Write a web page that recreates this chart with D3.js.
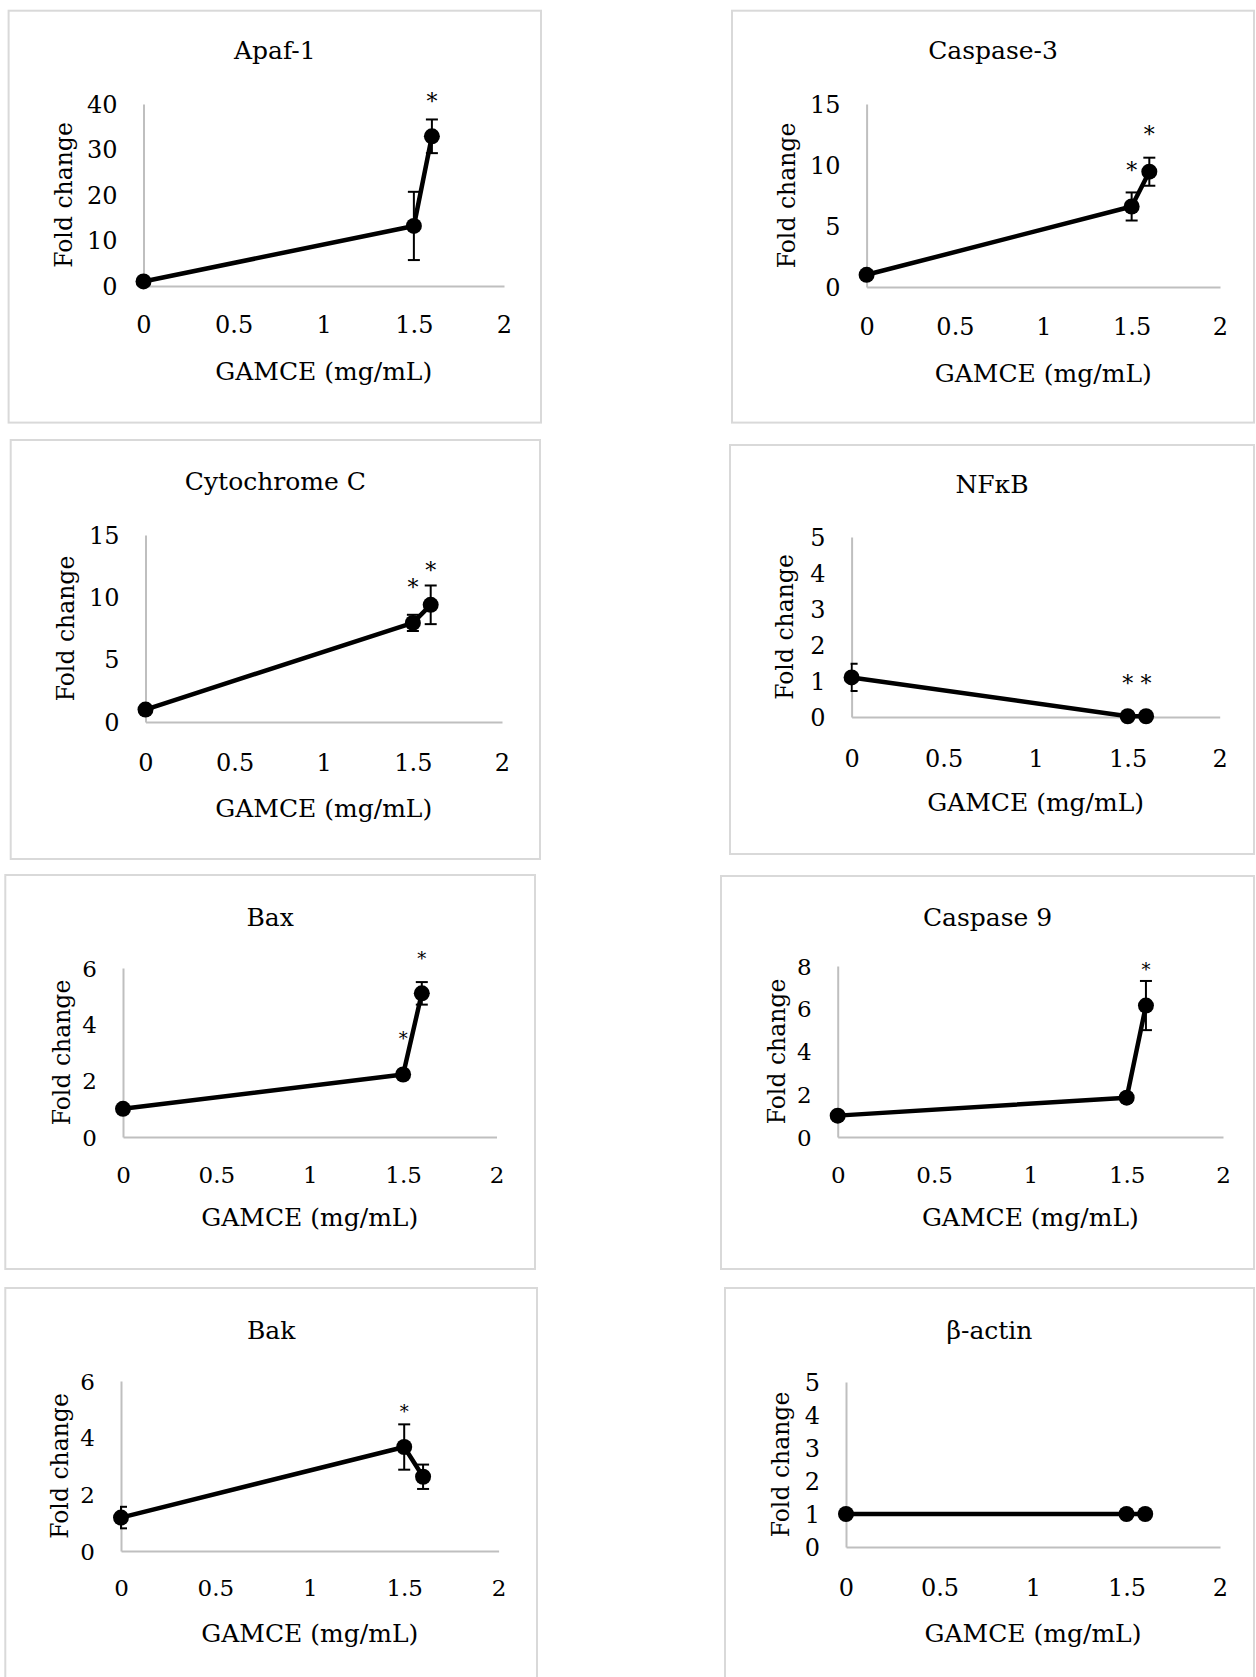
<!DOCTYPE html>
<meta charset="utf-8">
<style>
    body { margin: 0; background: #fff; }
    text { font-family: "DejaVu Serif", serif; fill: #000; }
</style>
<body>
<script src="https://d3js.org/d3.v7.min.js"></script>
<script>

// genes shown in each panel, row by row (left, right)
var genes = ["Apaf-1", "Caspase-3", "Cytochrome C", "NF\u03BAB", "Bax", "Caspase 9", "Bak", "\u03B2-actin"];

// GAMCE doses (mg/mL) and x axis ticks
var doses = [0, 1.5, 1.6];
var xTicks = [0, 0.5, 1, 1.5, 2];

// mean fold change per gene at each dose
var foldChange = [
    [1.0, 13.2, 32.9],
    [1.0, 6.6, 9.45],
    [1.0, 7.95, 9.4],
    [1.1, 0.02, 0.02],
    [1.0, 2.22, 5.1],
    [1.0, 1.84, 6.15],
    [1.18, 3.67, 2.62],
    [1.0, 1.0, 1.0]
];

// error bar half-length
var errorBars = [
    [0, 7.5, 3.7],
    [0, 1.15, 1.15],
    [0, 0.65, 1.55],
    [0.38, 0, 0],
    [0, 0.08, 0.4],
    [0, 0.2, 1.15],
    [0.38, 0.8, 0.43],
    [0, 0, 0]
];

// y axis maximum and tick step
var yMax = [40, 15, 15, 5, 6, 8, 6, 5];
var yStep = [10, 5, 5, 1, 2, 2, 2, 1];

// level of the significance asterisk (null = none)
var starLevel = [
    [null, null, 41.7],
    [null, 10.0, 12.9],
    [null, 11.2, 12.6],
    [null, 1.09, 1.09],
    [null, 3.64, 6.47],
    [null, null, 8.03],
    [null, 5.06, null],
    [null, null, null]
];

// panel placement on the page
var layout = [
    {box: [8.6, 10.7, 541, 422.6], x0: 143.5, x1: 504, y0: 286, y1: 104, titleY: 50, tickY: 325, labelY: 371, ylabX: 64, fs: 24, star: 22},
    {box: [732, 10.7, 1254, 422.6], x0: 866.6, x1: 1220, y0: 287, y1: 104, titleY: 50, tickY: 327, labelY: 373, ylabX: 787, fs: 24, star: 22},
    {box: [10.7, 440, 540, 859], x0: 145.5, x1: 502, y0: 722, y1: 535, titleY: 481.5, tickY: 763, labelY: 808, ylabX: 66, fs: 24, star: 22},
    {box: [730, 445, 1254, 854], x0: 851.6, x1: 1219.7, y0: 717, y1: 537, titleY: 484.7, tickY: 758.6, labelY: 802, ylabX: 785, fs: 24, star: 22},
    {box: [5.3, 875, 535, 1269], x0: 123, x1: 496.5, y0: 1137, y1: 968, titleY: 917, tickY: 1175, labelY: 1217.6, ylabX: 62, fs: 23, star: 18},
    {box: [721, 876, 1254, 1269], x0: 837.7, x1: 1223, y0: 1137, y1: 966, titleY: 917, tickY: 1175, labelY: 1217.6, ylabX: 777, fs: 23, star: 18},
    {box: [5.3, 1288, 537, 1700], x0: 121, x1: 498.6, y0: 1551, y1: 1381, titleY: 1330, tickY: 1588, labelY: 1633, ylabX: 60, fs: 23, star: 18},
    {box: [725, 1288, 1254, 1700], x0: 846, x1: 1220, y0: 1547, y1: 1382, titleY: 1330, tickY: 1588, labelY: 1633, ylabX: 781, fs: 24, star: 18}
];

var width = 1256, height = 1677;

var svg = d3.select("body").append("svg")
    .attr("width", width)
    .attr("height", height);

svg.append("rect")
    .attr("width", width)
    .attr("height", height)
    .attr("fill", "#fff");

genes.forEach(function(gene, i) {
    var L = layout[i];
    var g = svg.append("g");

    // panel frame
    g.append("rect")
        .attr("x", L.box[0])
        .attr("y", L.box[1])
        .attr("width", L.box[2] - L.box[0])
        .attr("height", L.box[3] - L.box[1])
        .attr("fill", "none")
        .attr("stroke", "#d9d9d9")
        .attr("stroke-width", 2);

    var x = d3.scaleLinear().domain([0, 2]).range([L.x0, L.x1]);
    var y = d3.scaleLinear().domain([0, yMax[i]]).range([L.y0, L.y1]);
    var yTicks = d3.range(0, yMax[i] + 0.001, yStep[i]);

    // axes
    var xAxis = g.append("g")
        .attr("transform", "translate(0," + L.y0 + ")")
        .call(d3.axisBottom(x).tickValues(xTicks).tickSize(0).tickFormat(d3.format("")));
    var yAxis = g.append("g")
        .attr("transform", "translate(" + L.x0 + ",0)")
        .call(d3.axisLeft(y).tickValues(yTicks).tickSize(0).tickPadding(26).tickFormat(d3.format("d")));

    [xAxis, yAxis].forEach(function(ax) {
        ax.select(".domain").attr("stroke", "#bfbfbf").attr("stroke-width", 2);
        ax.selectAll("text")
            .attr("font-size", L.fs)
            .attr("fill", "#000");
    });
    xAxis.selectAll("text").attr("dy", null).attr("dominant-baseline", "central")
        .attr("y", L.tickY - L.y0);
    yAxis.selectAll("text").attr("dy", null).attr("dominant-baseline", "central");

    // title and axis titles
    g.append("text")
        .attr("x", (L.box[0] + L.box[2]) / 2)
        .attr("y", L.titleY)
        .attr("text-anchor", "middle")
        .attr("dominant-baseline", "central")
        .attr("font-size", 25)
        .text(gene);

    g.append("text")
        .attr("x", (L.x0 + L.x1) / 2)
        .attr("y", L.labelY)
        .attr("text-anchor", "middle")
        .attr("dominant-baseline", "central")
        .attr("font-size", 25)
        .text("GAMCE (mg/mL)");

    g.append("text")
        .attr("transform", "translate(" + L.ylabX + "," + ((L.y0 + L.y1) / 2) + ") rotate(-90)")
        .attr("text-anchor", "middle")
        .attr("dominant-baseline", "central")
        .attr("font-size", 23.5)
        .text("Fold change");

    var pts = doses.map(function(d, j) {
        return {x: d, y: foldChange[i][j], e: errorBars[i][j], s: starLevel[i][j]};
    });

    // error bars are cut at the y axis
    var clipId = "clip" + i;
    svg.append("clipPath").attr("id", clipId)
        .append("rect")
        .attr("x", L.x0 - 1)
        .attr("y", 0)
        .attr("width", 600)
        .attr("height", height);

    var line = d3.line()
        .x(function(d) { return x(d.x); })
        .y(function(d) { return y(d.y); });

    g.append("path")
        .datum(pts)
        .attr("d", line)
        .attr("fill", "none")
        .attr("stroke", "#000")
        .attr("stroke-width", 4.5)
        .attr("stroke-linejoin", "round");

    var eb = g.append("g")
        .attr("clip-path", "url(#" + clipId + ")")
        .selectAll("g")
        .data(pts.filter(function(d) { return d.e > 0; }))
        .enter()
        .append("g");

    eb.append("line")
        .attr("x1", function(d) { return x(d.x); })
        .attr("x2", function(d) { return x(d.x); })
        .attr("y1", function(d) { return y(d.y - d.e); })
        .attr("y2", function(d) { return y(d.y + d.e); });
    eb.append("line")
        .attr("x1", function(d) { return x(d.x) - 6; })
        .attr("x2", function(d) { return x(d.x) + 6; })
        .attr("y1", function(d) { return y(d.y + d.e); })
        .attr("y2", function(d) { return y(d.y + d.e); });
    eb.append("line")
        .attr("x1", function(d) { return x(d.x) - 6; })
        .attr("x2", function(d) { return x(d.x) + 6; })
        .attr("y1", function(d) { return y(d.y - d.e); })
        .attr("y2", function(d) { return y(d.y - d.e); });
    eb.selectAll("line")
        .attr("stroke", "#000")
        .attr("stroke-width", 2);

    g.selectAll("circle")
        .data(pts)
        .enter()
        .append("circle")
        .attr("cx", function(d) { return x(d.x); })
        .attr("cy", function(d) { return y(d.y); })
        .attr("r", 8)
        .attr("fill", "#000");

    // significance marks
    g.selectAll("text.star")
        .data(pts.filter(function(d) { return d.s !== null; }))
        .enter()
        .append("text")
        .attr("class", "star")
        .attr("x", function(d) { return x(d.x); })
        .attr("y", function(d) { return y(d.s) + L.star * 0.58; })
        .attr("text-anchor", "middle")
        .attr("font-size", L.star)
        .text("*");
});

</script>
</body>
